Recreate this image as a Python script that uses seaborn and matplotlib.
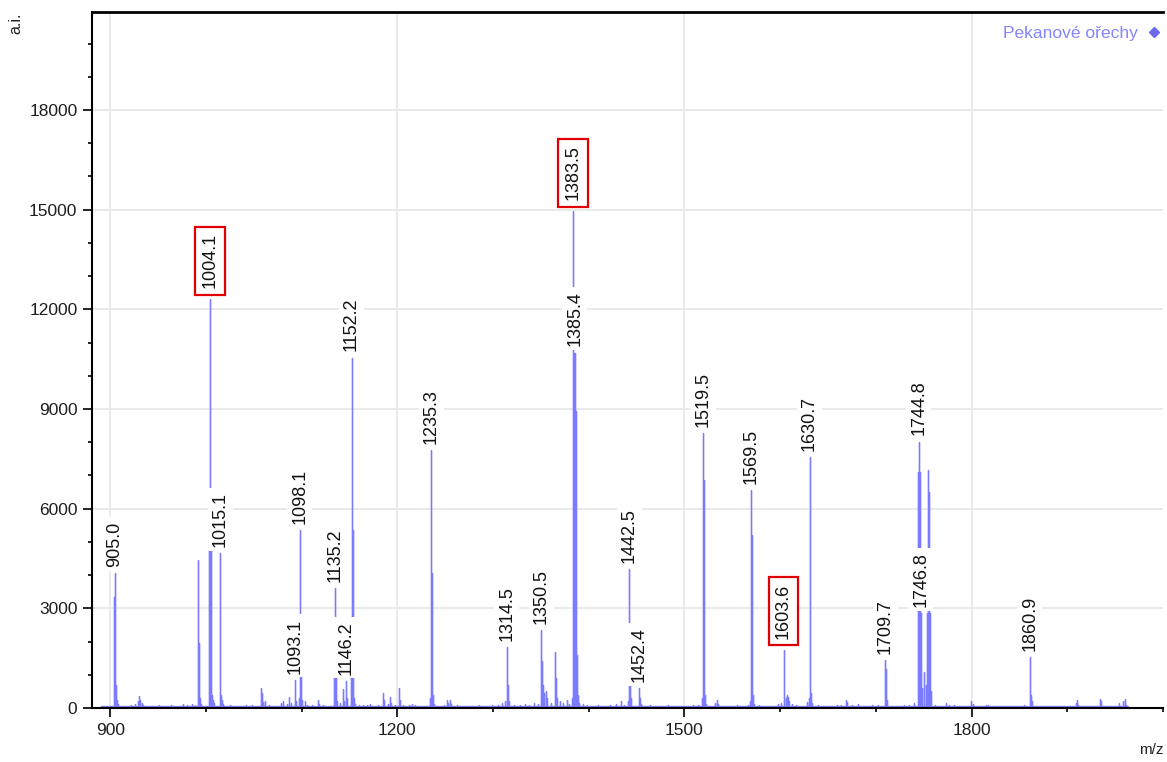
import numpy as np
import pandas as pd
import matplotlib
matplotlib.use("Agg")
import matplotlib.pyplot as plt
from matplotlib.lines import Line2D
from matplotlib.ticker import MultipleLocator
import seaborn as sns

# ---- spectrum data: peak m/z and intensity (a.i.) ----
peak_mz = [
    903.9, 905.0, 906.0, 907.0, 908.1,
    921.5, 926.3, 929.2, 930.6, 931.6, 933.2, 934.4,
    942.0, 950.5, 957.0, 963.2, 968.0, 972.5, 976.4, 980.2, 985.3, 988.7,
    991.9, 992.9, 993.9, 995.0,
    1003.1, 1004.1, 1005.1, 1006.1, 1007.1, 1008.2,
    1015.1, 1016.1, 1017.1, 1018.2,
    1025.0, 1030.8, 1036.5, 1042.3, 1048.5,
    1057.3, 1058.3, 1059.4, 1062.1, 1066.0, 1072.8, 1078.6, 1080.1, 1085.0, 1087.3, 1088.5,
    1093.1, 1094.1, 1097.1, 1098.1, 1099.1, 1100.1,
    1103.6, 1106.0, 1110.5, 1117.3, 1118.4, 1122.0, 1127.5,
    1134.2, 1135.2, 1136.2, 1137.2,
    1140.4, 1143.3, 1144.3, 1146.2, 1147.2,
    1151.2, 1152.2, 1153.2, 1154.2, 1155.2, 1156.2,
    1160.0, 1164.5, 1168.2, 1171.3, 1175.0, 1179.4, 1184.8, 1186.0, 1190.4, 1192.0, 1193.0,
    1197.5, 1202.0, 1203.1, 1206.0, 1212.5, 1215.0, 1218.4, 1223.0,
    1234.3, 1235.3, 1236.3, 1237.3, 1238.3,
    1244.0, 1249.0, 1252.4, 1253.4, 1255.0, 1256.5, 1262.0, 1270.5, 1278.2, 1285.0,
    1292.5, 1299.0, 1305.0, 1309.8, 1312.0,
    1314.5, 1315.5, 1316.5,
    1322.0, 1328.0, 1333.5, 1338.0, 1342.5, 1346.5,
    1350.5, 1351.5, 1352.5, 1353.5, 1355.5, 1356.5,
    1360.2, 1364.7, 1365.7, 1366.7, 1370.0, 1373.3, 1377.0, 1379.5,
    1382.5, 1383.5, 1384.5, 1385.4, 1386.4, 1387.4, 1388.4, 1389.4,
    1394.0, 1398.2, 1404.5, 1410.0, 1416.0, 1422.5, 1428.0, 1433.7, 1437.3,
    1441.5, 1442.5, 1443.5, 1444.5,
    1452.4, 1453.4, 1454.4, 1458.0, 1464.0, 1470.0, 1476.5, 1483.0, 1490.0, 1496.0,
    1503.0, 1509.0, 1514.0,
    1518.5, 1519.5, 1520.5, 1521.5, 1522.5,
    1531.9, 1533.5, 1535.0, 1541.0, 1548.0, 1555.0, 1561.0, 1566.0,
    1568.5, 1569.5, 1570.5, 1571.5, 1572.5,
    1578.0, 1585.0, 1592.0, 1598.0, 1601.0,
    1603.6, 1605.6, 1607.5, 1608.5, 1609.6, 1612.0, 1617.0, 1623.0, 1627.6,
    1629.7, 1630.7, 1631.7, 1632.7, 1633.7,
    1640.0, 1646.5, 1652.0, 1659.0, 1664.0, 1668.5, 1669.6, 1675.0, 1681.0, 1689.0,
    1696.0, 1702.0,
    1709.7, 1710.7, 1711.7,
    1716.0, 1722.0, 1729.0, 1735.0, 1740.0,
    1743.8, 1744.8, 1745.8, 1746.8, 1747.8, 1749.8, 1750.8, 1752.8, 1753.8, 1754.8,
    1755.8, 1756.8, 1757.8,
    1762.0, 1768.0, 1773.6, 1776.0, 1782.0, 1788.0, 1794.0, 1799.5, 1801.0, 1808.0,
    1815.5, 1817.0, 1824.0, 1832.0, 1840.0, 1848.0, 1855.0,
    1860.9, 1861.9, 1862.9,
    1870.0, 1880.0, 1890.0, 1900.0, 1909.5, 1910.5, 1911.5, 1920.0, 1928.0,
    1934.5, 1935.5, 1945.0, 1954.5, 1958.5, 1960.5, 1961.5,
]
peak_int = [
    3350, 4070, 700, 250, 120,
    90, 120, 200, 360, 250, 150, 90,
    60, 80, 70, 80, 60, 70, 110, 80, 120, 90,
    4450, 1950, 300, 120,
    4800, 12300, 4850, 400, 250, 150,
    4660, 400, 250, 120,
    80, 60, 70, 100, 80,
    600, 450, 180, 200, 80, 70, 150, 200, 120, 330, 150,
    850, 200, 300, 5350, 1000, 250,
    200, 90, 80, 250, 120, 80, 70,
    1050, 3610, 1050, 200,
    150, 560, 200, 820, 300,
    1050, 10550, 5350, 1050, 300, 120,
    80, 100, 80, 120, 70, 90, 450, 250, 120, 330, 150,
    80, 600, 250, 100, 80, 110, 90, 70,
    300, 7770, 4060, 400, 120,
    70, 90, 230, 150, 250, 120, 80, 70, 60, 80,
    70, 90, 100, 150, 200,
    1840, 700, 200,
    80, 90, 120, 100, 150, 120,
    2350, 1400, 700, 450, 500, 300,
    150, 1700, 900, 300, 200, 150, 250, 120,
    300, 14950, 10700, 10700, 8950, 1600, 400, 150,
    120, 80, 70, 90, 70, 80, 120, 200, 100,
    200, 4180, 720, 300,
    600, 300, 120, 70, 80, 60, 70, 80, 60, 70,
    60, 80, 100,
    300, 8280, 6850, 400, 120,
    150, 250, 120, 70, 60, 80, 70, 100,
    200, 6560, 5210, 400, 120,
    80, 70, 60, 120, 150,
    1750, 300, 380, 330, 200, 120, 80, 70, 180,
    300, 7560, 6470, 450, 150,
    80, 70, 60, 90, 100, 250, 180, 100, 120, 70,
    80, 90,
    1440, 1170, 250,
    70, 60, 80, 90, 150,
    7100, 8020, 7100, 2850, 600, 1090, 450, 700, 2850, 7160,
    6510, 2850, 500,
    90, 70, 150, 100, 80, 70, 60, 200, 120, 60,
    100, 90, 60, 70, 60, 70, 80,
    1530, 400, 200,
    60, 70, 60, 70, 160, 250, 100, 60, 70,
    270, 200, 60, 150, 200, 270, 100,
]

# annotated peaks; the boxed ones are highlighted in red
label_mz = [905.0, 1004.1, 1015.1, 1093.1, 1098.1, 1135.2, 1146.2, 1152.2, 1235.3,
            1314.5, 1350.5, 1383.5, 1385.4, 1442.5, 1452.4, 1519.5, 1569.5, 1603.6,
            1630.7, 1709.7, 1744.8, 1746.8, 1860.9]
boxed_mz = [1004.1, 1383.5, 1603.6]

series_name = "Pekanové ořechy"
baseline_level = 60
scan_start, scan_end = 890.0, 1963.0
x_ticks = [900, 1200, 1500, 1800]
y_ticks = [0, 3000, 6000, 9000, 12000, 15000, 18000]

# ---- build a stick trace (baseline -> apex -> baseline for each peak) ----
order = np.argsort(peak_mz)
mz_sorted = np.asarray(peak_mz)[order]
int_sorted = np.asarray(peak_int)[order]
xs, ys = [scan_start], [baseline_level]
for m, h in zip(mz_sorted, int_sorted):
    xs += [m, m, m]
    ys += [baseline_level, h, baseline_level]
xs.append(scan_end)
ys.append(baseline_level)
trace = pd.DataFrame({"m/z": xs, "a.i.": ys})
apex = dict(zip(peak_mz, peak_int))

# ---- figure ----
sns.set_style("white")
plt.rcParams["font.family"] = ["Liberation Sans", "DejaVu Sans"]

fig = plt.figure(figsize=(11.67, 7.62), dpi=100)
ax = fig.add_axes([92 / 1167, 54 / 762, (1163 - 92) / 1167, (708 - 12) / 762])

line_color = "#7b7bff"
sns.lineplot(data=trace, x="m/z", y="a.i.", sort=False, estimator=None,
             color=line_color, linewidth=0.95, ax=ax, legend=False)

ax.set_xlim(881, 2000)
ax.set_ylim(0, 20950)
ax.set_xticks(x_ticks)
ax.set_yticks(y_ticks)
ax.xaxis.set_minor_locator(MultipleLocator(100))
ax.yaxis.set_minor_locator(MultipleLocator(1000))
ax.tick_params(which="major", direction="out", length=6.5, width=1.2, color="black",
               labelsize=12.5, labelcolor="#1e1e1e", pad=4,
               bottom=True, left=True, top=False, right=False)
ax.tick_params(which="minor", direction="out", length=3, width=1.2, color="black",
               bottom=True, left=True, top=False, right=False)
ax.grid(True, which="major", color="#e8e8e8", linewidth=1.3)
ax.set_axisbelow(True)
ax.set_xlabel("")
ax.set_ylabel("")

for side in ("left", "bottom", "top"):
    ax.spines[side].set_visible(True)
    ax.spines[side].set_color("black")
    ax.spines[side].set_linewidth(1.5)
ax.spines["top"].set_linewidth(2.0)
ax.spines["right"].set_visible(False)

# peak annotations
for m in label_mz:
    boxed = m in boxed_mz
    if boxed:
        box = dict(boxstyle="square,pad=0.35", fc="white", ec="#e10000", lw=1.6)
        offset = 8
    else:
        box = dict(boxstyle="square,pad=0.22", fc="white", ec="none")
        offset = 4.5
    ax.annotate(f"{m:.1f}", xy=(m, apex[m]), xytext=(0, offset),
                textcoords="offset points", rotation=90, ha="center", va="bottom",
                fontsize=13, color="#111111", bbox=box, zorder=5,
                annotation_clip=False)

# legend: series name with diamond marker on the right
handle = Line2D([], [], marker="D", linestyle="none", markersize=5,
                markerfacecolor="#6a6aea", markeredgecolor="#6a6aea")
ax.legend([handle], [series_name], loc="center right",
          bbox_to_anchor=(1159 / 1167, 1 - 33 / 762), bbox_transform=fig.transFigure,
          frameon=False, markerfirst=False, labelcolor="#8585ff", fontsize=12.5,
          handlelength=0.6, handletextpad=0.6, borderpad=0, borderaxespad=0)

# axis captions
fig.text(16 / 1167, 1 - 13 / 762, "a.i.", rotation=90, ha="center", va="top",
         fontsize=11.5, color="#222222")
fig.text(1151 / 1167, 1 - 750 / 762, "m/z", ha="center", va="center",
         fontsize=11, color="#222222")

fig.savefig("out.png", dpi=100)
